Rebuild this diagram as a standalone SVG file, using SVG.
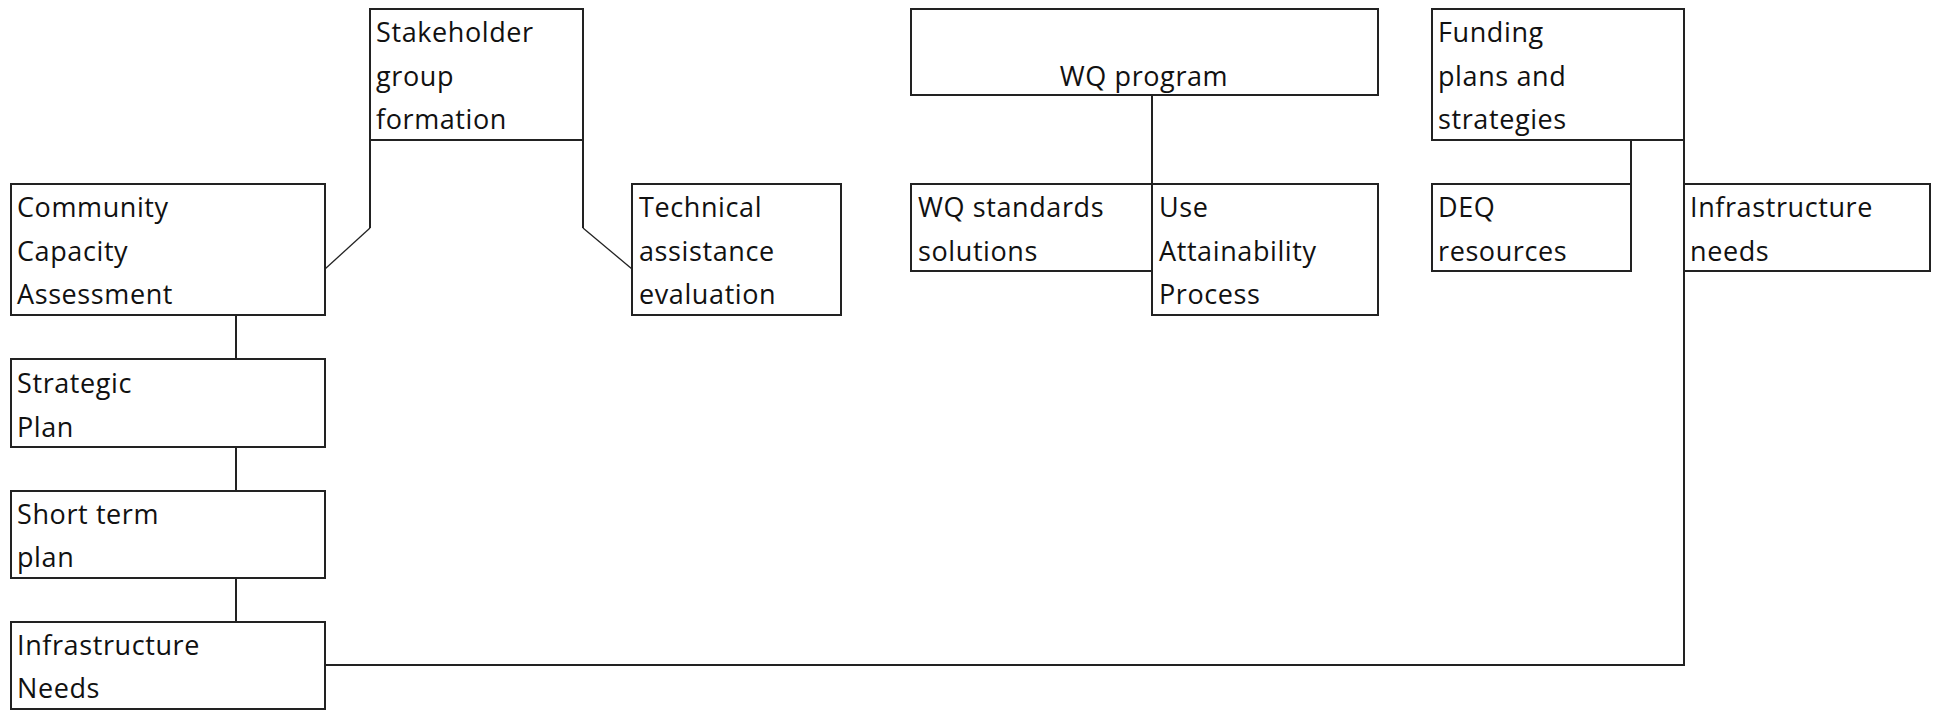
<svg xmlns="http://www.w3.org/2000/svg" width="1936" height="710" viewBox="0 0 1936 710">
<style>
.box{fill:#fff;stroke:#222;stroke-width:2}
.con{fill:none;stroke:#222;stroke-width:2}
.diag{fill:none;stroke:#222;stroke-width:1.3}
text{font-family:"Open Sans","Liberation Sans",sans-serif;font-size:27px;letter-spacing:0.6px;fill:#111}
</style>
<rect width="1936" height="710" fill="#fff"/>
<g id="connectors">
<line class="con" x1="236" y1="315" x2="236" y2="359"/>
<line class="con" x1="236" y1="447" x2="236" y2="491"/>
<line class="con" x1="236" y1="578" x2="236" y2="622"/>
<polyline class="con" points="370,140 370,228"/>
<polyline class="diag" points="370,228 325,269"/>
<polyline class="con" points="583,140 583,228"/>
<polyline class="diag" points="583,228 632,269"/>
<line class="con" x1="1152" y1="95" x2="1152" y2="184"/>
<line class="con" x1="1631" y1="140" x2="1631" y2="184"/>
<polyline class="con" points="325,665 1684,665 1684,140"/>
</g>
<g id="stakeholder">
<rect class="box" x="370" y="9" width="213" height="131"/>
<text x="376" y="42">Stakeholder</text>
<text x="376" y="85.5">group</text>
<text x="376" y="129">formation</text>
</g>
<g id="community">
<rect class="box" x="11" y="184" width="314" height="131"/>
<text x="17" y="217">Community</text>
<text x="17" y="260.5">Capacity</text>
<text x="17" y="304">Assessment</text>
</g>
<g id="technical">
<rect class="box" x="632" y="184" width="209" height="131"/>
<text x="639" y="217">Technical</text>
<text x="639" y="260.5">assistance</text>
<text x="639" y="304">evaluation</text>
</g>
<g id="wq-program">
<rect class="box" x="911" y="9" width="467" height="86"/>
<text x="1144" y="86" text-anchor="middle">WQ program</text>
</g>
<g id="wq-standards">
<rect class="box" x="911" y="184" width="241" height="87"/>
<text x="918" y="217">WQ standards</text>
<text x="918" y="260.5">solutions</text>
</g>
<g id="use-attainability">
<rect class="box" x="1152" y="184" width="226" height="131"/>
<text x="1159" y="217">Use</text>
<text x="1159" y="260.5">Attainability</text>
<text x="1159" y="304">Process</text>
</g>
<g id="funding">
<rect class="box" x="1432" y="9" width="252" height="131"/>
<text x="1438" y="42">Funding</text>
<text x="1438" y="85.5">plans and</text>
<text x="1438" y="129">strategies</text>
</g>
<g id="deq">
<rect class="box" x="1432" y="184" width="199" height="87"/>
<text x="1438" y="217">DEQ</text>
<text x="1438" y="260.5">resources</text>
</g>
<g id="infra-needs-right">
<rect class="box" x="1684" y="184" width="246" height="87"/>
<text x="1690" y="217">Infrastructure</text>
<text x="1690" y="260.5">needs</text>
</g>
<g id="strategic">
<rect class="box" x="11" y="359" width="314" height="88"/>
<text x="17" y="393">Strategic</text>
<text x="17" y="436.5">Plan</text>
</g>
<g id="short-term">
<rect class="box" x="11" y="491" width="314" height="87"/>
<text x="17" y="524">Short term</text>
<text x="17" y="567">plan</text>
</g>
<g id="infra-needs-left">
<rect class="box" x="11" y="622" width="314" height="87"/>
<text x="17" y="655">Infrastructure</text>
<text x="17" y="698">Needs</text>
</g>
</svg>
